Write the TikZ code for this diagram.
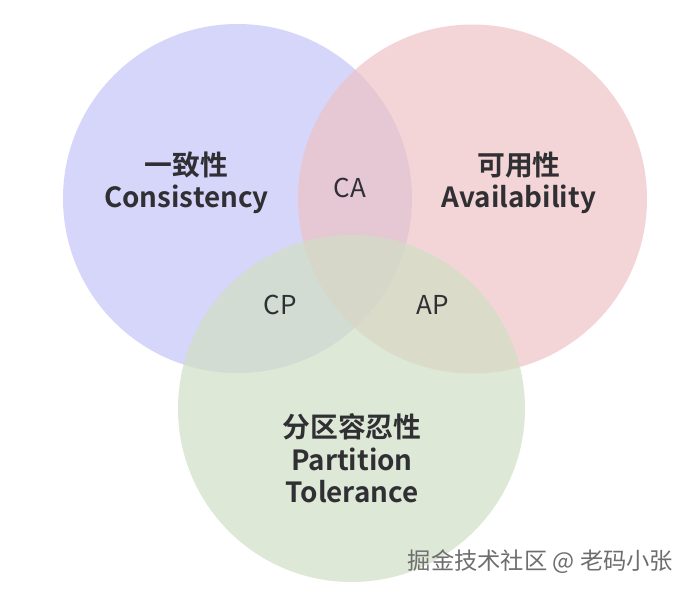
\documentclass[tikz,border=0pt]{standalone}
\usepackage{fontspec}
\setmainfont{Noto Sans CJK SC}
\newfontfamily\cjkbold{Noto Sans CJK SC Bold}
\definecolor{cleft}{RGB}{196,196,248}
\definecolor{cright}{RGB}{238,195,198}
\definecolor{cbottom}{RGB}{208,222,196}
\definecolor{ink}{RGB}{48,48,52}
\definecolor{wm}{RGB}{110,110,110}
\tikzset{
  venn/.style={circle, minimum size=349pt, inner sep=0pt, fill opacity=0.7, draw=none},
  title/.style={font=\cjkbold\fontsize{27.8}{32.5}\selectfont, text=ink, align=center, inner sep=0pt},
  pair/.style={font=\fontsize{26}{30}\selectfont, text=ink, inner sep=0pt},
  wmtext/.style={font=\fontsize{23.3}{26}\selectfont, text=wm, inner sep=0pt}
}
\begin{document}
\begin{tikzpicture}[x=1pt,y=-1pt]
\useasboundingbox (0,0) rectangle (693,594);
\node[venn, fill=cleft] (C) at (237.5,198.5) {};
\node[venn, fill=cright] (A) at (472.5,199) {};
\node[venn, fill=cbottom, minimum size=347pt] (P) at (351.5,408.5) {};
\node[title] (tc) at (186.5,183) {一致性\\Consistency};
\node[title] (ta) at (519,183) {可用性\\Availability};
\node[title] (tp) at (352,458.5) {分区容忍性\\Partition\\Tolerance};
\node[pair] (ca) at (350,188) {CA};
\node[pair] (cp) at (280,305) {CP};
\node[pair] (ap) at (433,305) {AP};
\node[wmtext] (wmk) at (540.5,562) {掘金技术社区 @ 老码小张};
\end{tikzpicture}
\end{document}
